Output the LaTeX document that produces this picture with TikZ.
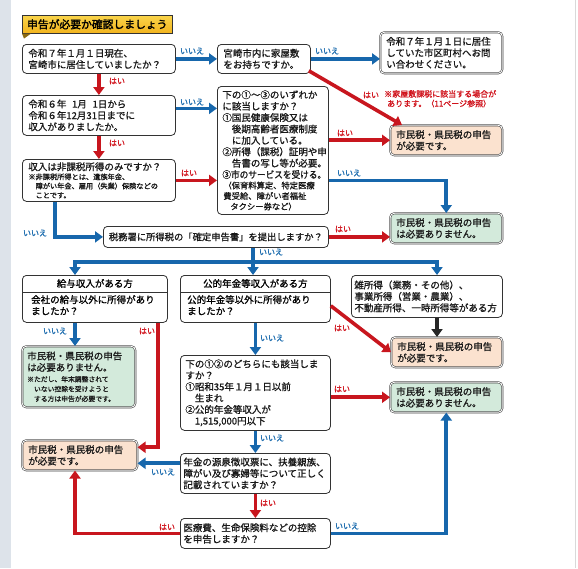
\documentclass[tikz,border=0pt]{standalone}
\usepackage{fontspec}
\usepackage{graphicx}
\setmainfont{Noto Sans CJK JP}[FakeBold=1.0]
\newfontfamily\titlefont{Noto Sans CJK JP}[FakeBold=2.0]
\usetikzlibrary{arrows.meta}
\definecolor{arrblue}{HTML}{1767AC}
\definecolor{arrred}{HTML}{C8161E}
\definecolor{lblblue}{HTML}{1A6BAE}
\definecolor{lblred}{HTML}{D0121B}
\definecolor{greenfill}{HTML}{D3EADB}
\definecolor{orangefill}{HTML}{FBE2CF}
\definecolor{ylwtop}{HTML}{F9D44A}
\definecolor{ylwbot}{HTML}{F2B41E}
\definecolor{ylwdark}{HTML}{8C6A12}
\definecolor{sidegray}{HTML}{DDE3EA}
\newcommand\mainsz{\fontsize{9.5}{11.4}\selectfont}
\newcommand\smlsz{\fontsize{8.3}{10.5}\selectfont}
\newcommand\tinysz{\fontsize{7.2}{9.2}\selectfont}
\newcommand\notesz{\fontsize{6.8}{9.8}\selectfont}
\newcommand\lblsz{\fontsize{8}{9}\selectfont}
\newcommand\rnotesz{\fontsize{8}{9.6}\selectfont}
\begin{document}
\begin{tikzpicture}[x=1pt,y=-1pt,
  box/.style={draw=black!80, line width=0.8pt, rounded corners=4pt, fill=white, anchor=north west,
    inner xsep=6pt, inner ysep=2pt, align=left, font=\mainsz, text=black!90},
  dbl/.style={draw=black!75, line width=0.55pt, double=white, double distance=0.9pt},
  okbox/.style={box, dbl, fill=greenfill},
  needbox/.style={box, dbl, fill=orangefill},
  barr/.style={draw=arrblue, line width=3.6pt, -{Triangle[width=11pt,length=8pt]}},
  bline/.style={draw=arrblue, line width=3.6pt},
  rarr/.style={draw=arrred, line width=3.6pt, -{Triangle[width=11pt,length=8pt]}},
  karr/.style={draw=black!85, line width=3.6pt, -{Triangle[width=11pt,length=8pt]}},
  lb/.style={text=lblblue, font=\lblsz, inner sep=0pt},
  lr/.style={text=lblred, font=\lblsz, inner sep=0pt}]
\useasboundingbox (0,0) rectangle (578,568);
\fill[white] (0,0) rectangle (578,568);
\fill[sidegray] (0,0) rectangle (11,568);
\draw[black!15, line width=0.8pt] (575,0) -- (575,568);

% title
\node[anchor=north west, minimum width=150pt, minimum height=18pt, top color=ylwtop, bottom color=ylwbot,
  draw=black!80, line width=0.6pt, inner sep=0pt, font=\fontsize{10.8}{12}\selectfont\titlefont] (title) at (22,15) {申告が必要か確認しましょう};
\fill[ylwdark] (title.south west) -- ++(9,0) -- ++(-7,5) -- cycle;

% boxes
\node[box, minimum width=153pt, text width=141pt, minimum height=29pt] (b1) at (22,44) {令和７年１月１日現在、\\宮崎市に居住していましたか？};
\node[box, minimum width=93pt, text width=81pt, minimum height=29pt] (b2) at (217,44) {宮崎市内に家屋敷\\をお持ちですか。};
\node[box, dbl, minimum width=122pt, text width=110pt, minimum height=41pt] (b3) at (380,32) {令和７年１月１日に居住\\していた市区町村へお問\\い合わせください。};
\node[box, minimum width=153pt, text width=141pt, minimum height=40pt] (b4) at (22,95) {令和６年\hspace{0.6em}1月\hspace{0.6em}1日から\\令和６年12月31日までに\\収入がありましたか。};
\node[box, inner xsep=5pt, minimum width=111pt, text width=101pt, minimum height=128pt] (b5) at (217,86) {{下の①～③のいずれか\\に該当しますか？\\①国民健康保険又は\\　後期高齢者医療制度\\　に加入している。\\②所得（課税）証明や申\\　告書の写し等が必要。\\\scalebox{0.91}[1]{③市のサービスを受ける。}\par}{\smlsz\hspace*{1pt}（保育料算定、特定医療\\\hspace*{1pt}費受給、障がい者福祉\\\hspace*{8pt}タクシー券など）\par}};
\node[box, minimum width=153pt, text width=141pt, minimum height=42pt] (b6) at (22,159) {{収入は非課税所得のみですか？\par}{\tinysz ※非課税所得とは、遺族年金、\\\hspace*{1em}障がい年金、雇用（失業）保険などの\\\hspace*{1em}ことです。\par}};
\node[box, align=center, font=\fontsize{9.3}{11}\selectfont, minimum width=225pt, minimum height=21pt, inner xsep=2pt] (b7) at (103,226) {税務署に所得税の「確定申告書」を提出しますか？};

\node[needbox, minimum width=112pt, text width=100pt, minimum height=30pt] (r1) at (390,125) {市民税・県民税の申告\\が必要です。};
\node[okbox, minimum width=112pt, text width=100pt, minimum height=30pt] (n1) at (390,213) {市民税・県民税の申告\\は必要ありません。};

% branch boxes
\node[box, minimum width=145pt, minimum height=47pt] (b8) at (22,275) {};
\draw[black!80, line width=0.8pt] ([yshift=-17pt]b8.north west) -- ([yshift=-17pt]b8.north east);
\node[font=\mainsz, inner sep=0pt] (b8h) at ([yshift=-8.5pt]b8.north) {給与収入がある方};
\node[font=\mainsz, align=left, anchor=north west, inner sep=0pt] (b8t) at ([shift={(9pt,-20pt)}]b8.north west) {会社の給与以外に所得があり\\ましたか？};

\node[box, minimum width=150pt, minimum height=47pt] (b9) at (180,275) {};
\draw[black!80, line width=0.8pt] ([yshift=-17pt]b9.north west) -- ([yshift=-17pt]b9.north east);
\node[font=\mainsz, inner sep=0pt] (b9h) at ([yshift=-8.5pt]b9.north) {公的年金等収入がある方};
\node[font=\mainsz, align=left, anchor=north west, inner sep=0pt] (b9t) at ([shift={(7pt,-20pt)}]b9.north west) {公的年金等以外に所得があり\\ましたか？};

\node[box, inner xsep=3pt, minimum width=151pt, text width=145pt, minimum height=42pt] (b10) at (351,275) {雑所得（業務・その他）、\\事業所得（営業・農業）、\\不動産所得、一時所得等がある方};

\node[needbox, minimum width=111pt, text width=99pt, minimum height=30pt] (r2) at (391,337) {市民税・県民税の申告\\が必要です。};
\node[okbox, inner xsep=5pt, minimum width=113pt, text width=103pt, minimum height=61pt] (n2) at (22,346) {{市民税・県民税の申告\\は必要ありません。\par}\vspace{1pt}{\notesz ※ただし、年末調整されて\\　いない控除を受けようと\\　する方は申告が必要です。\par}};
\node[needbox, minimum width=115pt, text width=103pt, minimum height=30pt] (r3) at (22,440) {市民税・県民税の申告\\が必要です。};

\node[box, inner xsep=5pt, minimum width=150pt, text width=140pt, minimum height=75pt] (b11) at (180,355) {下の①②のどちらにも該当しま\\すか？\\①昭和35年１月１日以前\\　生まれ\\②公的年金等収入が\\　1,515,000円以下};
\node[okbox, minimum width=112pt, text width=100pt, minimum height=30pt] (n3) at (390,382) {市民税・県民税の申告\\は必要ありません。};
\node[box, inner xsep=3pt, minimum width=150pt, text width=144pt, minimum height=40pt] (b12) at (180,453) {年金の源泉徴収票に、扶養親族、\\障がい及び寡婦等について正しく\\記載されていますか？};
\node[box, inner xsep=3pt, minimum width=150pt, text width=144pt, minimum height=30pt] (b13) at (180,518) {医療費、生命保険料などの控除\\を申告しますか？};

% helper coordinates
\coordinate (b4hi) at ([yshift=7pt]b4.east);
\coordinate (b5lo) at ([yshift=-30pt]b5.east);
\coordinate (b6dn) at ([xshift=33pt]b6.south west);
\coordinate (split) at (253,262);
\coordinate (b8dn) at ([xshift=53pt]b8.south west);
\coordinate (b8yes) at ([xshift=136pt]b8.south west);
\coordinate (b10dn) at ([xshift=86pt]b10.south west);
\coordinate (r3hi) at ([yshift=8pt]r3.east);
\coordinate (r3lo) at ([yshift=-8pt]r3.east);

% connectors
\draw[barr] (b1.east) -- (b2.west);
\draw[barr] (b2.east) -- (b2.east -| b3.west);
\draw[rarr] ([shift={(-2pt,3pt)}]b2.south east) -- ([xshift=12pt]r1.north west);
\draw[rarr] (b1.south) -- (b4.north);
\draw[barr] (b4hi) -- (b4hi -| b5.west);
\draw[rarr] (r1.west -| b5.east) -- (r1.west);
\draw[barr] (b5lo) -| (n1.north);
\draw[rarr] (b4.south) -- (b6.north);
\draw[rarr] (b6.east) -- (b6.east -| b5.west);
\draw[barr] (b6dn) |- (b7.west);
\draw[rarr] (b7.east) -- (b7.east -| n1.west);
\draw[bline] (b7.south -| split) -- (split);
\draw[barr] (split) -| ([xshift=53pt]b8.north west);
\draw[barr] (split) -| ([xshift=86pt]b10.north west);
\draw[barr] (split) -- (split |- b9.north);
\draw[karr] (b10dn) -- (b10dn |- r2.north);
\draw[rarr] ([yshift=17pt]b9.south east) -- (r2.west);
\draw[barr] (b8dn) -- (b8dn |- n2.north);
\draw[rarr] (b8yes) |- (r3hi);
\draw[barr] (b9.south) -- (b11.north);
\draw[rarr] (n3.west -| b11.east) -- (n3.west);
\draw[barr] (b11.south) -- (b12.north);
\draw[barr] (r3lo -| b12.west) -- (r3lo);
\draw[rarr] (b12.south) -- (b13.north);
\draw[rarr] (b13.west) -| ([xshift=53pt]r3.south west);
\draw[barr] (b13.east) -| (n3.south);

% labels
\node[lb] (l1) at (192,51) {いいえ};
\node[lb] (l2) at (327,51) {いいえ};
\node[lr] (l3) at (117,81) {はい};
\node[lr] (l4) at (371,95) {はい};
\node[text=lblred, font=\rnotesz, inner sep=0pt, align=left, anchor=north west] (note) at (384,90) {※家屋敷課税に該当する場合が\\\hspace*{3pt}あります。（11ページ参照）};
\node[lb] (l5) at (192,102) {いいえ};
\node[lr] (l6) at (345,133) {はい};
\node[lr] (l7) at (117,143) {はい};
\node[lb] (l8) at (349,173) {いいえ};
\node[lr] (l9) at (189,173) {はい};
\node[lb] (l10) at (35,233) {いいえ};
\node[lr] (l11) at (343,229) {はい};
\node[lb] (l12) at (271,252) {いいえ};
\node[lb] (l13) at (55,331) {いいえ};
\node[lr] (l14) at (147,331) {はい};
\node[lr] (l15) at (342,328) {はい};
\node[lb] (l16) at (272,338) {いいえ};
\node[lr] (l17) at (342,389) {はい};
\node[lb] (l18) at (272,438) {いいえ};
\node[lb] (l19) at (163,472) {いいえ};
\node[lr] (l20) at (268,503) {はい};
\node[lr] (l21) at (167,527) {はい};
\node[lb] (l22) at (347,526) {いいえ};
\end{tikzpicture}
\end{document}
